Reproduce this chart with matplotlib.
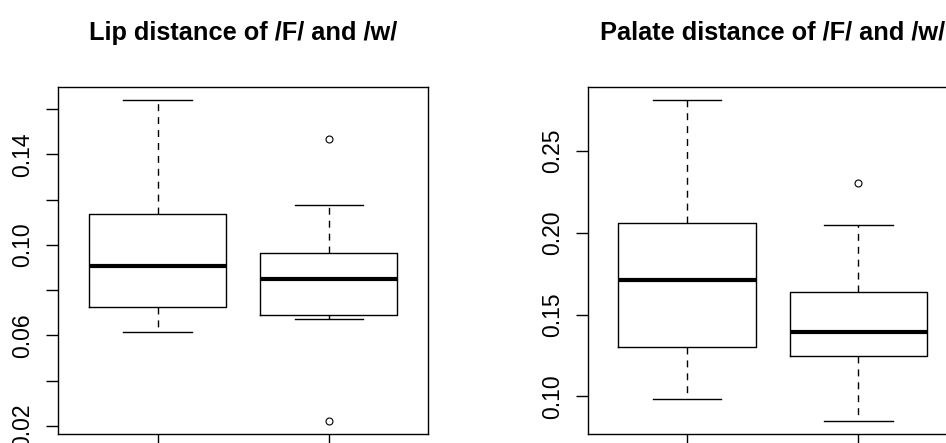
import numpy as np
import matplotlib
matplotlib.use("Agg")
import matplotlib.pyplot as plt

plt.rcParams['font.family'] = ['Liberation Sans', 'DejaVu Sans']

groups = ['F', 'w']

# lip distance, five number summary per group
lip_whislo = [0.0617, 0.0672]
lip_q1 = [0.0724, 0.0692]
lip_med = [0.0908, 0.0849]
lip_q3 = [0.1137, 0.0966]
lip_whishi = [0.1642, 0.1177]
lip_fliers = [[], [0.1467, 0.0221]]
lip_ticks = [0.02, 0.04, 0.06, 0.08, 0.10, 0.12, 0.14, 0.16]
lip_ticklabels = ['0.02', '', '0.06', '', '0.10', '', '0.14', '']

# palate distance
pal_whislo = [0.0981, 0.0848]
pal_q1 = [0.1303, 0.1248]
pal_med = [0.1709, 0.1391]
pal_q3 = [0.2061, 0.1637]
pal_whishi = [0.2815, 0.2047]
pal_fliers = [[], [0.2307]]
pal_ticks = [0.10, 0.15, 0.20, 0.25]
pal_ticklabels = ['0.10', '0.15', '0.20', '0.25']

titles = ['Lip distance of /F/ and /w/', 'Palate distance of /F/ and /w/']


def make_stats(wlo, q1, med, q3, whi, fl):
    stats = []
    for i in range(len(groups)):
        stats.append({'label': groups[i], 'whislo': wlo[i], 'q1': q1[i],
                      'med': med[i], 'q3': q3[i], 'whishi': whi[i],
                      'fliers': fl[i]})
    return stats


def draw(ax, stats, ticks, ticklabels, title):
    ax.bxp(stats, positions=[1, 2], widths=0.8, showfliers=True,
           boxprops=dict(color='black', linewidth=1.0),
           medianprops=dict(color='black', linewidth=3.0, solid_capstyle='butt'),
           whiskerprops=dict(color='black', linewidth=1.0, linestyle=(0, (5, 4.3))),
           capprops=dict(color='black', linewidth=1.0),
           capwidths=0.4,
           flierprops=dict(marker='o', markerfacecolor='none', markeredgecolor='black',
                           markersize=5, markeredgewidth=0.8))
    # R style 4% padding around the data range
    vals = []
    for s in stats:
        vals += [s['whislo'], s['whishi']] + list(s['fliers'])
    lo, hi = min(vals), max(vals)
    pad = (hi - lo) * 0.04
    ax.set_ylim(lo - pad, hi + pad)
    ax.set_xlim(0.42, 2.58)
    ax.set_xticks([1, 2])
    ax.set_xticklabels(['', ''])
    ax.set_yticks(ticks)
    ax.set_yticklabels(ticklabels, rotation=90, va='center')
    ax.tick_params(axis='both', direction='out', length=8.6, width=1.0, labelsize=16.5,
                   pad=8.5, color='black')
    for sp in ax.spines.values():
        sp.set_linewidth(1.0)
        sp.set_color('black')
    ax.text(0.5, 1.135, title, transform=ax.transAxes, ha='center', va='baseline',
            fontsize=18.3, fontweight='bold')


fig = plt.figure(figsize=(9.46, 4.43), dpi=100)
ax1 = fig.add_axes([0.0616, 0.0203, 0.3911, 0.784])
ax2 = fig.add_axes([0.6212, 0.0203, 0.3911, 0.784])

draw(ax1, make_stats(lip_whislo, lip_q1, lip_med, lip_q3, lip_whishi, lip_fliers),
     lip_ticks, lip_ticklabels, titles[0])
draw(ax2, make_stats(pal_whislo, pal_q1, pal_med, pal_q3, pal_whishi, pal_fliers),
     pal_ticks, pal_ticklabels, titles[1])

fig.savefig('out.png', dpi=100)
